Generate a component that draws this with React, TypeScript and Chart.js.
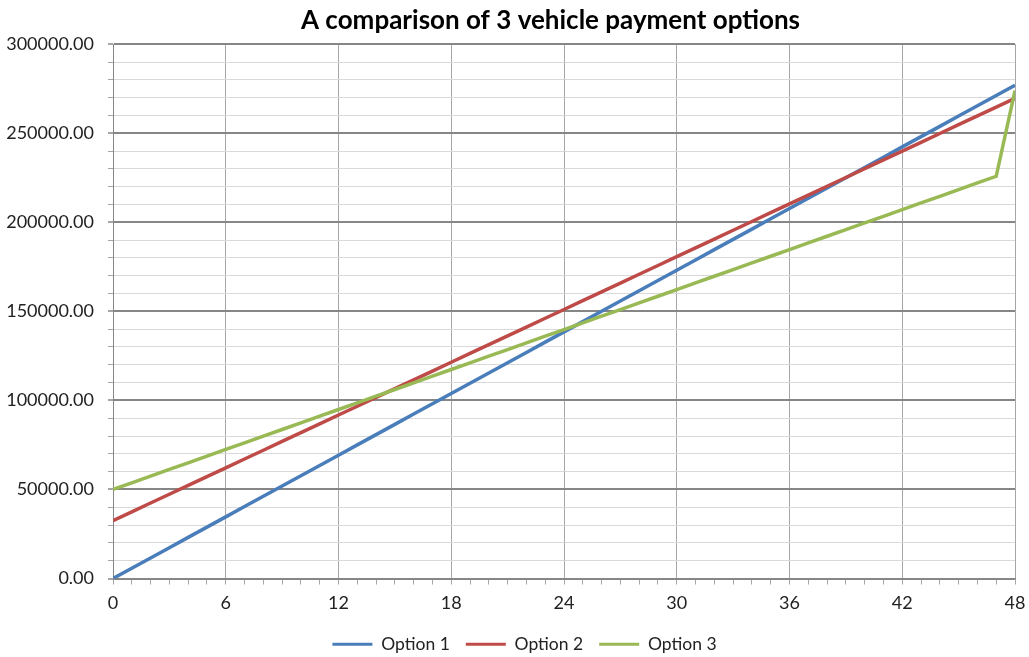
import React, { useEffect, useRef } from "react";
import { Chart, registerables } from "chart.js";

Chart.register(...registerables);

const months: number[] = [
  0, 1, 2, 3, 4, 5, 6, 7, 8, 9, 10, 11, 12, 13, 14, 15, 16, 17, 18, 19, 20, 21, 22, 23, 24,
  25, 26, 27, 28, 29, 30, 31, 32, 33, 34, 35, 36, 37, 38, 39, 40, 41, 42, 43, 44, 45, 46, 47, 48,
];

const option1: number[] = [
  0, 5770, 11540, 17310, 23080, 28850, 34620, 40390, 46160, 51930, 57700, 63470, 69240,
  75010, 80780, 86550, 92320, 98090, 103860, 109630, 115400, 121170, 126940, 132710, 138480,
  144250, 150020, 155790, 161560, 167330, 173100, 178870, 184640, 190410, 196180, 201950,
  207720, 213490, 219260, 225030, 230800, 236570, 242340, 248110, 253880, 259650, 265420,
  271190, 276960,
];

const option2: number[] = [
  32500, 37440, 42380, 47320, 52260, 57200, 62140, 67080, 72020, 76960, 81900, 86840, 91780,
  96720, 101660, 106600, 111540, 116480, 121420, 126360, 131300, 136240, 141180, 146120,
  151060, 156000, 160940, 165880, 170820, 175760, 180700, 185640, 190580, 195520, 200460,
  205400, 210340, 215280, 220220, 225160, 230100, 235040, 239980, 244920, 249860, 254800,
  259740, 264680, 269620,
];

const option3: number[] = [
  50000, 53740, 57480, 61220, 64960, 68710, 72450, 76190, 79930, 83670, 87410, 91150, 94890,
  98630, 102370, 106120, 109860, 113600, 117340, 121080, 124820, 128560, 132300, 136040,
  139780, 143530, 147270, 151010, 154750, 158490, 162230, 165970, 169710, 173450, 177190,
  180940, 184680, 188420, 192160, 195900, 199640, 203380, 207120, 210860, 214600, 218350,
  222090, 225830, 274000,
];

const seriesNames: string[] = ["Option 1", "Option 2", "Option 3"];
const titleText = "A comparison of 3 vehicle payment options";

const FONT = "Lato, 'Open Sans', sans-serif";

const boxShift = {
  id: "boxShift",
  afterLayout(chart: any) {
    const lg = chart.legend;
    if (lg) {
      lg.left += 17;
      lg.right += 17;
    }
    const tb = chart.titleBlock;
    if (tb) {
      tb.left += 43;
      tb.right += 43;
    }
  },
};

export default function App() {
  const ref = useRef<HTMLCanvasElement | null>(null);

  useEffect(() => {
    document.body.style.margin = "0";
    if (!ref.current) return;
    const toPts = (arr: number[]) => months.map((m, i) => ({ x: m, y: arr[i] }));
    const chart = new Chart(ref.current, {
      type: "line",
      data: {
        datasets: [
          { label: seriesNames[0], data: toPts(option1), borderColor: "#4A7EBB", backgroundColor: "#4A7EBB", order: 3 },
          { label: seriesNames[1], data: toPts(option2), borderColor: "#BE4B48", backgroundColor: "#BE4B48", order: 2 },
          { label: seriesNames[2], data: toPts(option3), borderColor: "#98B954", backgroundColor: "#98B954", order: 1 },
        ],
      },
      plugins: [boxShift],
      options: {
        animation: false,
        responsive: false,
        devicePixelRatio: 1,
        layout: { padding: { left: 0, right: 14, top: 0, bottom: 0 } },
        elements: {
          line: { borderWidth: 3.5, tension: 0 },
          point: { radius: 0, hoverRadius: 0 },
        },
        plugins: {
          title: {
            display: true,
            text: titleText,
            color: "#000",
            font: { family: FONT, size: 26, weight: "bold" },
            padding: { top: 5, bottom: 8 },
          },
          legend: {
            position: "bottom",
            labels: {
              boxWidth: 40,
              boxHeight: 3,
              padding: 16,
              color: "#222",
              font: { family: FONT, size: 17.5 },
              sort: (a: any, b: any) => a.datasetIndex - b.datasetIndex,
              generateLabels: (c: any) =>
                c.data.datasets.map((d: any, i: number) => ({
                  text: d.label,
                  fillStyle: d.borderColor,
                  strokeStyle: d.borderColor,
                  lineWidth: 0,
                  datasetIndex: i,
                  hidden: false,
                  fontColor: "#222",
                })),
            },
          },
          tooltip: { enabled: false },
        },
        scales: {
          x: {
            type: "linear",
            min: 0,
            max: 48,
            afterFit: (s: any) => {
              s.height = 41;
              s.paddingLeft = 0;
              s.paddingRight = 0;
            },
            ticks: {
              stepSize: 1,
              autoSkip: false,
              maxRotation: 0,
              padding: 8,
              color: "#222",
              font: { family: FONT, size: 18 },
              callback: (v: any) => (Number(v) % 6 === 0 ? String(v) : ""),
            },
            grid: {
              color: (ctx: any) => (ctx.tick && ctx.tick.value % 6 === 0 ? "#A6A6A6" : "rgba(0,0,0,0)"),
              tickColor: "#A6A6A6",
              tickLength: 6,
              lineWidth: 1,
            },
            border: { color: "#868686", width: 1 },
          },
          y: {
            type: "linear",
            min: 0,
            max: 300000,
            afterFit: (s: any) => {
              s.width = 113;
            },
            ticks: {
              stepSize: 10000,
              autoSkip: false,
              padding: 14,
              color: "#222",
              font: { family: FONT, size: 18 },
              callback: (v: any) => (Number(v) % 50000 === 0 ? Number(v).toFixed(2) : ""),
            },
            grid: {
              color: (ctx: any) => (ctx.tick && ctx.tick.value % 50000 === 0 ? "#868686" : "#D9D9D9"),
              lineWidth: (ctx: any) => (ctx.tick && ctx.tick.value % 50000 === 0 ? 2 : 1),
              tickColor: "#A6A6A6",
              tickLength: 5,
            },
            border: { color: "#868686", width: 1 },
          },
        },
      },
    });
    return () => chart.destroy();
  }, []);

  return (
    <div style={{ position: "absolute", left: 0, top: 0, width: 1029, height: 663 }}>
      <canvas ref={ref} width={1029} height={663} style={{ display: "block" }} />
    </div>
  );
}
